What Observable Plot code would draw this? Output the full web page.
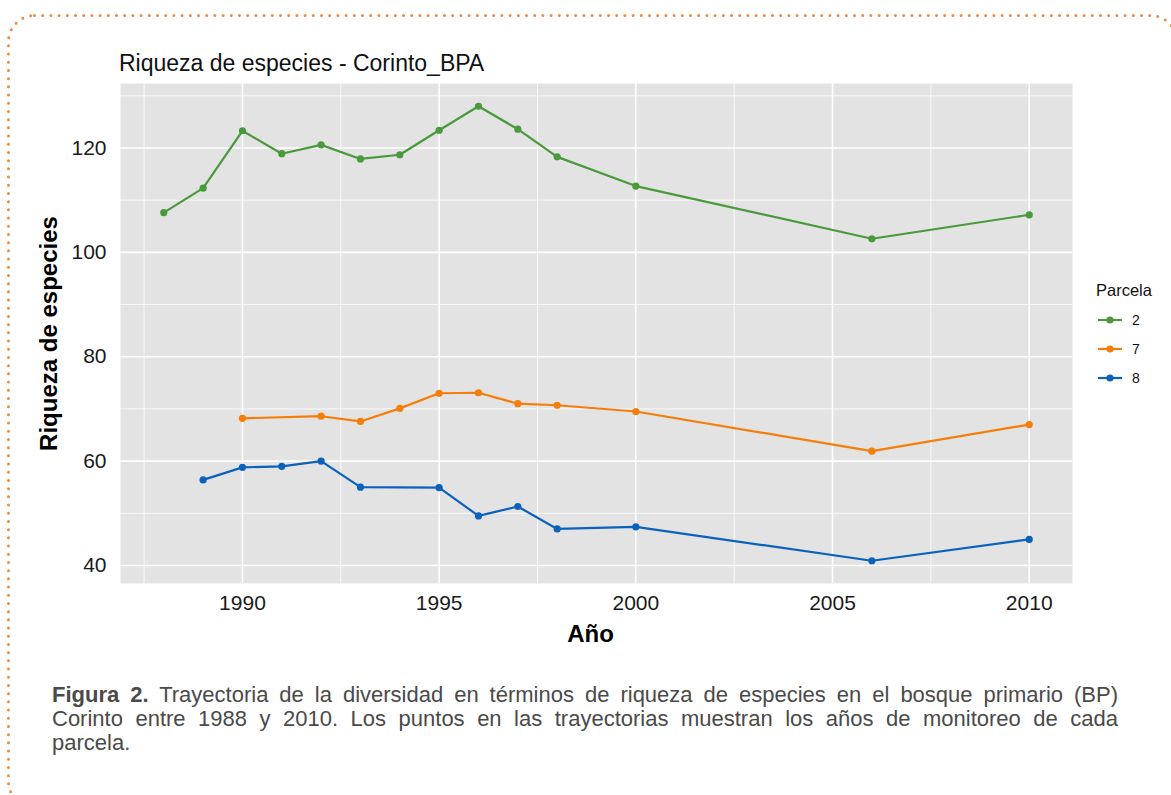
<!DOCTYPE html>
<html>
<head>
<meta charset="utf-8">
<script src="https://cdn.jsdelivr.net/npm/d3@7"></script>
<script src="https://cdn.jsdelivr.net/npm/@observablehq/plot@0.6"></script>
<style>
  html, body { margin: 0; padding: 0; background: #fff; }
  body { width: 1171px; height: 795px; position: relative; overflow: hidden; font-family: "Liberation Sans", Arial, sans-serif; }
  #border { position: absolute; left: 0; top: 0; }
  #title { position: absolute; left: 119px; top: 52px; font-size: 23px; line-height: 1; color: #111; white-space: nowrap; }
  #chart { position: absolute; left: 0; top: 40px; }
  #legend { position: absolute; left: 1096px; top: 279px; color: #111; }
  #legend .lt { font-size: 16.5px; line-height: 22px; margin-bottom: 4px; }
  #legend .row { display: flex; align-items: center; height: 29px; font-size: 14px; }
  #legend .row svg { margin-right: 10px; }
  #caption { position: absolute; left: 52px; top: 683px; width: 1066px; font-size: 20px; line-height: 23.8px; color: #4a4a4a; }
  #caption .l { text-align: justify; text-align-last: justify; white-space: nowrap; }
  #caption .last { text-align: left; text-align-last: left; }
</style>
</head>
<body>
<svg id="border" width="1171" height="795"><rect x="8.5" y="15.5" width="1168" height="792" rx="26" fill="none" stroke="#f08a3c" stroke-width="3" stroke-linecap="round" stroke-dasharray="0 8.2"/></svg>
<div id="title"></div>
<div id="chart"></div>
<div id="legend"></div>
<div id="caption"></div>
<script>
// ---- data ----
const seriesNames = ["2", "7", "8"];
const seriesColors = ["#4a993c", "#f57e0b", "#0a62bd"];

const years2 = [1988, 1989, 1990, 1991, 1992, 1993, 1994, 1995, 1996, 1997, 1998, 2000, 2006, 2010];
const rich2  = [107.6, 112.3, 123.3, 118.9, 120.6, 117.9, 118.7, 123.4, 128.0, 123.6, 118.3, 112.7, 102.6, 107.2];

const years7 = [1990, 1992, 1993, 1994, 1995, 1996, 1997, 1998, 2000, 2006, 2010];
const rich7  = [68.2, 68.6, 67.6, 70.1, 73.0, 73.1, 71.0, 70.7, 69.5, 61.9, 67.0];

const years8 = [1989, 1990, 1991, 1992, 1993, 1995, 1996, 1997, 1998, 2000, 2006, 2010];
const rich8  = [56.4, 58.8, 59.0, 60.0, 55.0, 54.9, 49.5, 51.3, 47.0, 47.4, 40.9, 45.0];

const xMajor = [1990, 1995, 2000, 2005, 2010];
const xMinor = [1987.5, 1992.5, 1997.5, 2002.5, 2007.5];
const yMajor = [40, 60, 80, 100, 120];
const yMinor = [50, 70, 90, 110, 130];

const titleText = "Riqueza de especies - Corinto_BPA";
const xLabel = "Año";
const yLabel = "Riqueza de especies";
const legendTitle = "Parcela";

// ---- tidy table ----
const table = [
  ...years2.map((y, i) => ({year: y, value: rich2[i], plot: "2"})),
  ...years7.map((y, i) => ({year: y, value: rich7[i], plot: "7"})),
  ...years8.map((y, i) => ({year: y, value: rich8[i], plot: "8"}))
];

const allYears = [...years2, ...years7, ...years8];
const allVals = [...rich2, ...rich7, ...rich8];
const xr = d3.extent(allYears), yr = d3.extent(allVals);
const xe = (xr[1] - xr[0]) * 0.05, ye = (yr[1] - yr[0]) * 0.05;

const chart = Plot.plot({
  width: 1171,
  height: 620,
  marginTop: 43,
  marginBottom: 77,
  marginLeft: 120,
  marginRight: 99,
  style: { fontFamily: "Liberation Sans, Arial, sans-serif", fontSize: "21px", color: "#1a1a1a", background: "transparent", overflow: "visible" },
  x: { domain: [xr[0] - xe, xr[1] + xe] },
  y: { domain: [yr[0] - ye, yr[1] + ye] },
  color: { domain: seriesNames, range: seriesColors },
  marks: [
    Plot.frame({ fill: "#e3e3e3", stroke: null }),
    Plot.ruleX(xMinor, { stroke: "#fff", strokeWidth: 0.8 }),
    Plot.ruleY(yMinor, { stroke: "#fff", strokeWidth: 0.8 }),
    Plot.ruleX(xMajor, { stroke: "#fff", strokeWidth: 1.6 }),
    Plot.ruleY(yMajor, { stroke: "#fff", strokeWidth: 1.6 }),
    Plot.line(table, { x: "year", y: "value", z: "plot", stroke: "plot", strokeWidth: 2.2 }),
    Plot.dot(table, { x: "year", y: "value", fill: "plot", r: 3.6 }),
    Plot.axisX({ ticks: xMajor, tickSize: 0, tickPadding: 12, tickFormat: d => String(d), label: null }),
    Plot.axisY({ ticks: yMajor, tickSize: 0, tickPadding: 14, label: null }),
    Plot.text([xLabel], { frameAnchor: "bottom", dy: 51, dx: -6, lineAnchor: "middle", fontSize: 24, fontWeight: "bold", fill: "#000" }),
    Plot.text([yLabel], { frameAnchor: "left", dx: -71, rotate: -90, textAnchor: "middle", lineAnchor: "middle", fontSize: 24, fontWeight: "bold", fill: "#000" })
  ]
});
document.getElementById("chart").appendChild(chart);
document.getElementById("title").textContent = titleText;

// ---- legend ----
const leg = document.getElementById("legend");
const lt = document.createElement("div");
lt.className = "lt";
lt.textContent = legendTitle;
leg.appendChild(lt);
seriesNames.forEach((n, i) => {
  const row = document.createElement("div");
  row.className = "row";
  const ns = "http://www.w3.org/2000/svg";
  const s = document.createElementNS(ns, "svg");
  s.setAttribute("width", "26"); s.setAttribute("height", "10");
  const ln = document.createElementNS(ns, "line");
  ln.setAttribute("x1", "2"); ln.setAttribute("x2", "26"); ln.setAttribute("y1", "5"); ln.setAttribute("y2", "5");
  ln.setAttribute("stroke", seriesColors[i]); ln.setAttribute("stroke-width", "2.2");
  const c = document.createElementNS(ns, "circle");
  c.setAttribute("cx", "14"); c.setAttribute("cy", "5"); c.setAttribute("r", "3.6"); c.setAttribute("fill", seriesColors[i]);
  s.appendChild(ln); s.appendChild(c);
  row.appendChild(s);
  const t = document.createElement("span");
  t.textContent = n;
  row.appendChild(t);
  leg.appendChild(row);
});

// ---- caption ----
const captionLines = [
  ["Figura 2.", " Trayectoria de la diversidad en términos de riqueza de especies en el bosque primario (BP)"],
  ["", "Corinto entre 1988 y 2010. Los puntos en las trayectorias muestran los años de monitoreo de cada"],
  ["", "parcela."]
];
const cap = document.getElementById("caption");
const lineDivs = captionLines.map((l, i) => {
  const d = document.createElement("div");
  d.className = "l" + (i === captionLines.length - 1 ? " last" : "");
  if (l[0]) { const b = document.createElement("b"); b.textContent = l[0]; d.appendChild(b); }
  d.appendChild(document.createTextNode(l[1]));
  cap.appendChild(d);
  return d;
});
// fit font so the widest line nearly fills the caption width
const probe = document.createElement("span");
probe.style.cssText = "position:absolute;visibility:hidden;white-space:nowrap;font-size:20px;font-family:inherit";
cap.appendChild(probe);
let wmax = 0;
captionLines.slice(0, 2).forEach(l => {
  probe.innerHTML = "";
  if (l[0]) { const b = document.createElement("b"); b.textContent = l[0]; probe.appendChild(b); }
  probe.appendChild(document.createTextNode(l[1]));
  wmax = Math.max(wmax, probe.getBoundingClientRect().width);
});
cap.removeChild(probe);
const fs = Math.min(22, 20 * 1058 / wmax);
cap.style.fontSize = fs.toFixed(2) + "px";
</script>
</body>
</html>
